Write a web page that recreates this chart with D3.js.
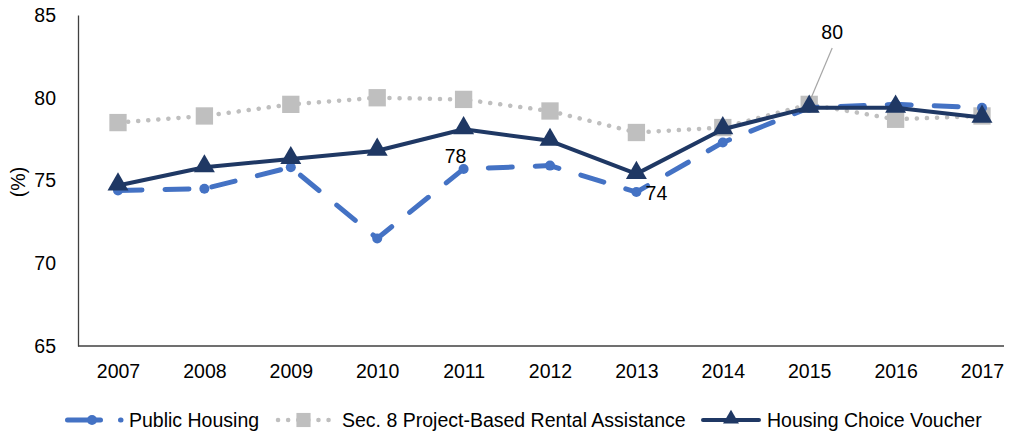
<!DOCTYPE html>
<html>
<head>
<meta charset="utf-8">
<script src="https://cdn.jsdelivr.net/npm/d3@7"></script>
<style>
  body { margin: 0; background: #fff; }
  text { font-family: "Liberation Sans", Arial, sans-serif; fill: #000; }
</style>
</head>
<body>
<div id="chart"></div>
<script>
// Data
var years = ["2007", "2008", "2009", "2010", "2011", "2012", "2013", "2014", "2015", "2016", "2017"];
var publicHousing = [74.4, 74.5, 75.8, 71.5, 75.7, 75.9, 74.3, 77.3, 79.4, 79.6, 79.4];
var sec8 = [78.5, 78.9, 79.6, 80.0, 79.9, 79.2, 77.9, 78.2, 79.6, 78.7, 78.9];
var voucher = [74.7, 75.8, 76.3, 76.8, 78.1, 77.4, 75.4, 78.1, 79.4, 79.4, 78.8];
var yTicks = [65, 70, 75, 80, 85];
var seriesNames = ["Public Housing", "Sec. 8 Project-Based Rental Assistance", "Housing Choice Voucher"];

var width = 1012, height = 435;
var margin = { top: 15, right: 8, bottom: 89, left: 78 };

var svg = d3.select("#chart")
  .append("svg")
  .attr("width", width)
  .attr("height", height);

var xScale = d3.scalePoint()
  .domain(years)
  .range([118, 982]);

var yScale = d3.scaleLinear()
  .domain([65, 85])
  .range([height - margin.bottom, margin.top]);

var fontSize = "19.5px";

// Axes
var yAxis = d3.axisLeft(yScale).tickValues(yTicks).tickSize(0).tickPadding(22);
var gy = svg.append("g")
  .attr("transform", "translate(" + margin.left + ",0)")
  .call(yAxis);
gy.select(".domain").attr("stroke", "#404040").attr("stroke-width", 1.3);
gy.selectAll("text").style("font-size", fontSize).attr("fill", "#000");

var xAxis = d3.axisBottom(xScale).tickSize(0).tickPadding(18);
var gx = svg.append("g")
  .attr("transform", "translate(0," + yScale(65) + ")")
  .call(xAxis);
gx.select(".domain").attr("d", "M" + margin.left + ",0H" + (width - margin.right))
  .attr("stroke", "#404040").attr("stroke-width", 1.3);
gx.selectAll("text").style("font-size", fontSize).attr("fill", "#000");

// Y axis label
svg.append("text")
  .attr("transform", "translate(25," + 182 + ") rotate(-90)")
  .style("text-anchor", "middle")
  .style("font-size", fontSize)
  .text("(%)");

var line = d3.line()
  .x(function (d, i) { return xScale(years[i]); })
  .y(function (d) { return yScale(d); });

var tri = d3.symbol().type(d3.symbolTriangle).size(190);
var sq = d3.symbol().type(d3.symbolSquare).size(300);

// Sec. 8 (grey dotted, squares)
svg.append("path")
  .attr("d", line(sec8))
  .attr("fill", "none")
  .attr("stroke", "#BFBFBF")
  .attr("stroke-width", 4.5)
  .attr("stroke-linecap", "round")
  .attr("stroke-dasharray", "0.1 10");
svg.selectAll(".sq")
  .data(sec8)
  .join("path")
  .attr("class", "sq")
  .attr("d", sq)
  .attr("fill", "#BFBFBF")
  .attr("transform", function (d, i) { return "translate(" + xScale(years[i]) + "," + yScale(d) + ")"; });

// Public Housing (blue dashed)
svg.append("path")
  .attr("d", line(publicHousing))
  .attr("fill", "none")
  .attr("stroke", "#4472C4")
  .attr("stroke-width", 5)
  .attr("stroke-linecap", "round")
  .attr("stroke-dasharray", "24 23");
svg.selectAll(".ph")
  .data(publicHousing)
  .join("circle")
  .attr("class", "ph")
  .attr("cx", function (d, i) { return xScale(years[i]); })
  .attr("cy", function (d) { return yScale(d); })
  .attr("r", 5)
  .attr("fill", "#4472C4");

// Housing Choice Voucher (navy solid, triangles)
svg.append("path")
  .attr("d", line(voucher))
  .attr("fill", "none")
  .attr("stroke", "#1F3864")
  .attr("stroke-width", 4)
  .attr("stroke-linejoin", "round");
svg.selectAll(".tri")
  .data(voucher)
  .join("path")
  .attr("class", "tri")
  .attr("d", tri)
  .attr("fill", "#1F3864")
  .attr("transform", function (d, i) { return "translate(" + xScale(years[i]) + "," + (yScale(d) - 1) + ")"; });

// Data labels
svg.append("text")
  .attr("x", xScale("2011") - 8)
  .attr("y", yScale(voucher[4]) + 34)
  .style("text-anchor", "middle")
  .style("font-size", fontSize)
  .text("78");
svg.append("text")
  .attr("x", xScale("2013") + 20)
  .attr("y", yScale(publicHousing[6]) + 8)
  .style("text-anchor", "middle")
  .style("font-size", fontSize)
  .text("74");
svg.append("line")
  .attr("x1", xScale("2015") + 2)
  .attr("y1", yScale(voucher[8]) - 10)
  .attr("x2", xScale("2015") + 23)
  .attr("y2", 48)
  .attr("stroke", "#A6A6A6")
  .attr("stroke-width", 1.2);
svg.append("text")
  .attr("x", xScale("2015") + 23)
  .attr("y", 39)
  .style("text-anchor", "middle")
  .style("font-size", fontSize)
  .text("80");

// Legend
var legendY = 420;
var legendItems = [
  { name: seriesNames[0], x0: 67.5, x1: 121, color: "#4472C4" },
  { name: seriesNames[1], x0: 278, x1: 329, color: "#BFBFBF" },
  { name: seriesNames[2], x0: 703, x1: 759, color: "#1F3864" }
];

var legend = svg.selectAll(".legend")
  .data(legendItems)
  .join("g")
  .attr("class", "legend");

legend.append("path")
  .attr("d", function (d) { return "M" + d.x0 + "," + legendY + "H" + d.x1; })
  .attr("fill", "none")
  .attr("stroke", function (d) { return d.color; })
  .attr("stroke-linecap", "round")
  .attr("stroke-width", function (d, i) { return [5, 4.5, 4][i]; })
  .attr("stroke-dasharray", function (d, i) { return ["33 20", "0.1 10", null][i]; });

legend.append("text")
  .attr("x", function (d) { return d.x1 + [8, 13, 8][legendItems.indexOf(d)]; })
  .attr("y", legendY + 7)
  .style("font-size", fontSize)
  .text(function (d) { return d.name; });

svg.append("circle")
  .attr("cx", 92)
  .attr("cy", legendY)
  .attr("r", 5)
  .attr("fill", "#4472C4");
svg.append("path")
  .attr("d", d3.symbol().type(d3.symbolSquare).size(200))
  .attr("fill", "#BFBFBF")
  .attr("transform", "translate(" + ((legendItems[1].x0 + legendItems[1].x1) / 2) + "," + legendY + ")");
svg.append("path")
  .attr("d", d3.symbol().type(d3.symbolTriangle).size(110))
  .attr("fill", "#1F3864")
  .attr("transform", "translate(" + ((legendItems[2].x0 + legendItems[2].x1) / 2) + "," + (legendY - 1) + ")");
</script>
</body>
</html>
